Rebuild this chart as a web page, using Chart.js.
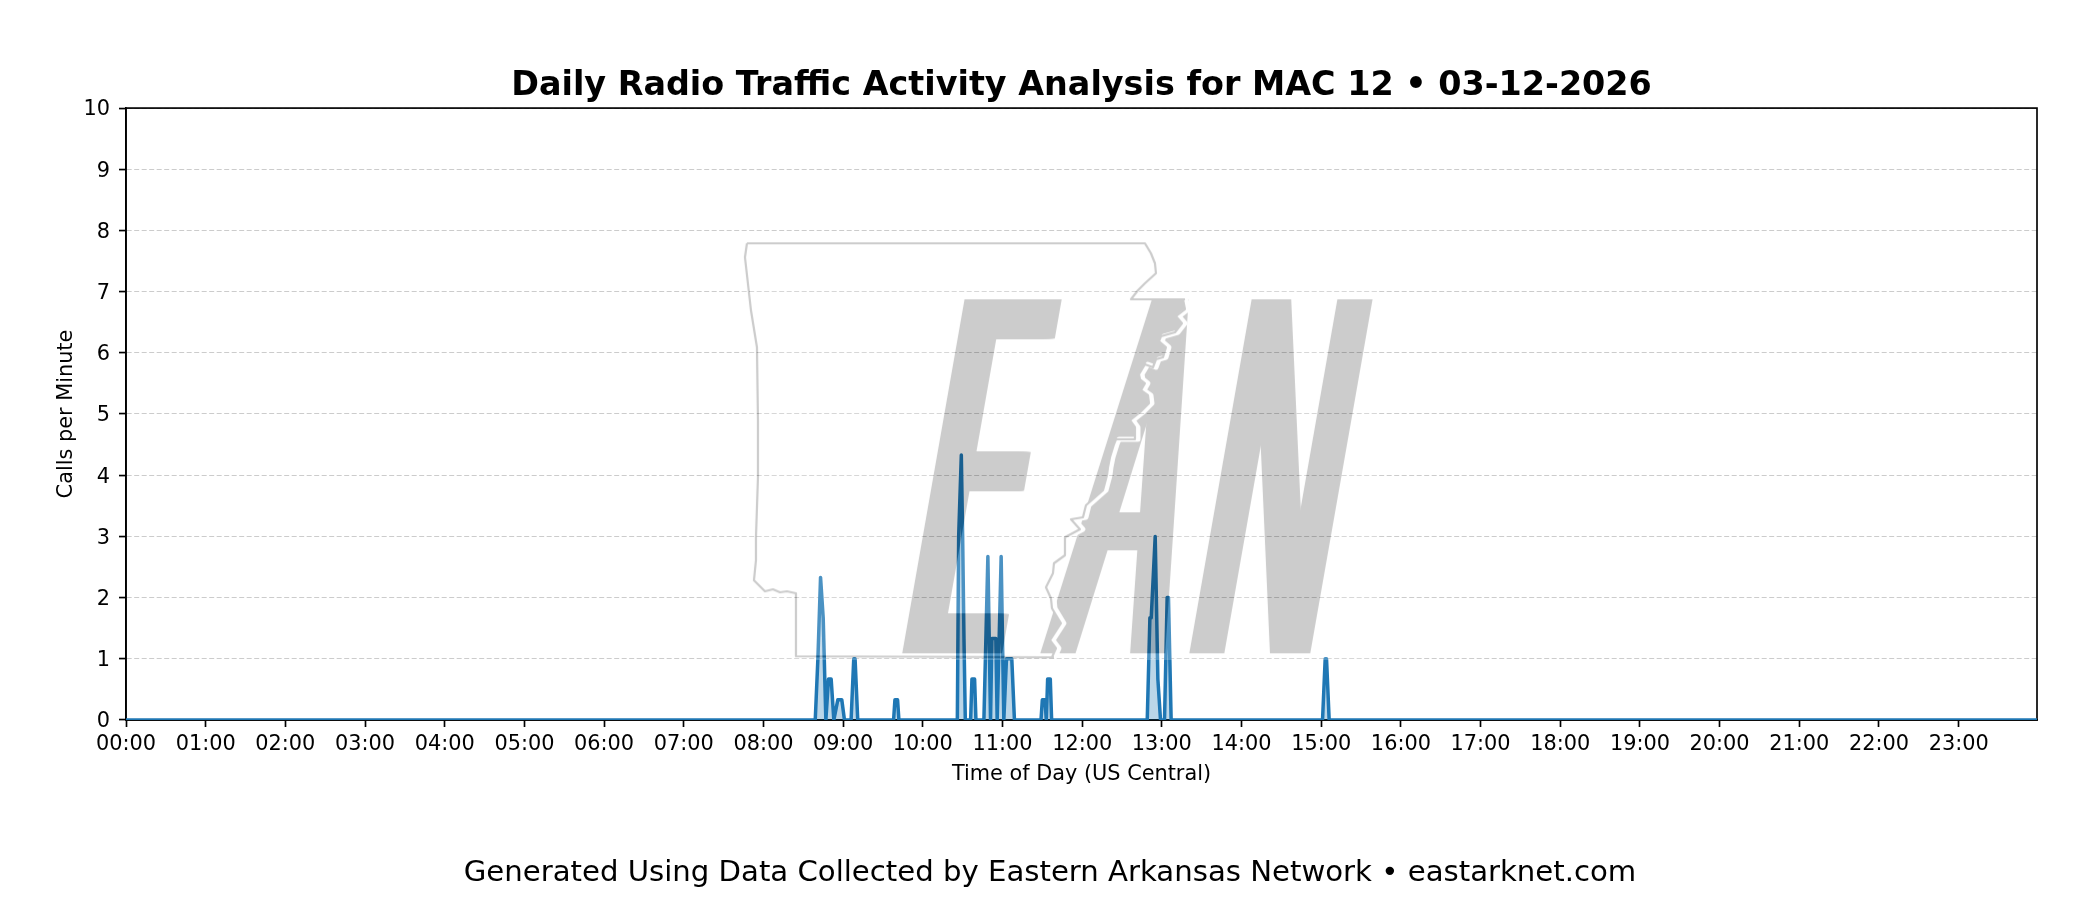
<!DOCTYPE html>
<html>
<head>
<meta charset="utf-8">
<title>Daily Radio Traffic Activity</title>
<script src="https://cdn.jsdelivr.net/npm/chart.js@4"></script>
<style>
  html, body { margin: 0; background: #fff; }
  canvas { display: block; }
</style>
</head>
<body>
<canvas id="trafficChart" width="2100" height="900"></canvas>
<script>
const hourLabels = ["00:00", "01:00", "02:00", "03:00", "04:00", "05:00", "06:00", "07:00",
  "08:00", "09:00", "10:00", "11:00", "12:00", "13:00", "14:00", "15:00",
  "16:00", "17:00", "18:00", "19:00", "20:00", "21:00", "22:00", "23:00"];

// minute of the day, quiet stretches only keep their end points
const minuteOfDay = [0, 519, 521, 523, 525, 527, 529, 531, 533, 536, 539, 541,
  546, 548, 549, 551, 578, 579, 581, 582,
  626, 627, 628, 629, 630, 631, 632, 636, 637, 639, 640,
  646, 649, 651, 652, 655, 656, 659, 661, 663, 667, 669,
  689, 690, 692, 693, 694, 696, 697,
  769, 771, 772, 775, 777, 779, 782, 784, 785, 787,
  901, 903, 904, 906, 1439];
const callsPerMinute = [0, 0, 1, 2.33, 1.67, 0, 0.67, 0.67, 0, 0.33, 0.33, 0,
  0, 1, 1, 0, 0, 0.33, 0.33, 0,
  0, 3, 3.67, 4.33, 3, 1.33, 0, 0, 0.67, 0.67, 0,
  0, 2.67, 0, 1.33, 1.33, 0, 2.67, 0, 1, 1, 0,
  0, 0.33, 0.33, 0, 0.67, 0.67, 0,
  0, 1.67, 1.67, 3, 0.67, 0, 0, 2, 2, 0,
  0, 1, 1, 0, 0];

// network logo sitting over the plot, in its own picture units
const logoLetters = ["E", "A", "N"];
const logoLeft = [162, 300, 449];
const logoRight = [263, 426, 572];
const logoSmear = [26, 20, 20];
const logoSlant = [0.176, 0.19, 0.176];
const stateNorth = [[7, 3], [405, 3], [411, 13], [415, 23], [416, 33], [405, 43], [398, 50], [391, 59], [445, 59]];
const stateRiver = [[445, 59], [447, 69], [438, 76], [444, 83], [437, 92], [423, 96], [421, 101], [428, 107],
  [425, 117], [418, 119], [415, 127], [407, 124], [401, 134], [402, 139], [407, 143], [403, 150], [410, 155],
  [411, 163], [402, 172], [392, 180], [397, 187], [397, 199], [378, 199], [376, 204], [372, 217], [370, 227],
  [369, 235], [365, 250], [348, 265], [345, 277], [333, 279], [342, 289], [327, 297], [327, 315], [316, 323],
  [315, 333], [308, 347], [313, 358], [314, 368], [323, 383], [312, 400], [318, 408], [314, 417]];
const stateSouth = [[314, 417], [56, 416], [56, 353], [47, 351], [40, 352], [33, 349], [25, 351], [18, 344],
  [14, 340], [16, 320], [16, 297], [18, 237], [18, 180], [17, 107], [11, 70], [5, 17], [7, 3]];

function tracePath(c, pts, dx) {
  c.beginPath();
  pts.forEach((p, i) => (i ? c.lineTo(p[0] + dx, p[1]) : c.moveTo(p[0] + dx, p[1])));
}

function paintLogo() {
  const off = document.createElement("canvas");
  off.width = 636;
  off.height = 420;
  const c = off.getContext("2d");
  c.fillStyle = "#fff";
  c.fillRect(0, 0, off.width, off.height);
  const baseline = 413, capTop = 58;
  c.fillStyle = "#000";
  c.font = "400 100px 'Liberation Sans'";
  logoLetters.forEach((ch, i) => {
    const m = c.measureText(ch);
    const ink = m.actualBoundingBoxRight + m.actualBoundingBoxLeft;
    const sy = (baseline - capTop) / m.actualBoundingBoxAscent;
    const sx = (logoRight[i] - logoLeft[i] - logoSmear[i]) / ink;
    for (let dx = 0; dx <= logoSmear[i]; dx++) {
      c.setTransform(sx, 0, -logoSlant[i] * sy, sy, logoLeft[i] + dx + m.actualBoundingBoxLeft * sx, baseline);
      c.fillText(ch, 0, 0);
    }
  });
  c.setTransform(1, 0, 0, 1, 0, 0);
  c.lineJoin = "round";
  c.strokeStyle = "#fff";
  c.lineWidth = 5;
  tracePath(c, stateRiver, 1);
  c.stroke();
  c.strokeStyle = "#000";
  c.lineWidth = 2.2;
  tracePath(c, stateNorth, 0);
  c.stroke();
  tracePath(c, stateRiver, -2);
  c.stroke();
  tracePath(c, stateSouth, 0);
  c.stroke();
  return off;
}

const logoPlugin = {
  id: "logo",
  afterDatasetsDraw(chart) {
    const { ctx, scales } = chart;
    ctx.save();
    ctx.globalAlpha = 0.2;
    ctx.drawImage(paintLogo(), scales.x.getPixelForValue(462.3), scales.y.getPixelForValue(7.84));
    ctx.restore();
  },
};

const framePlugin = {
  id: "frame",
  beforeDatasetsDraw(chart) {
    const { ctx, chartArea: a } = chart;
    ctx.save();
    ctx.strokeStyle = "#000";
    ctx.lineWidth = 1.67;
    ctx.strokeRect(a.left, a.top, a.right - a.left, a.bottom - a.top);
    ctx.restore();
  },
};

new Chart(document.getElementById("trafficChart"), {
  type: "line",
  data: {
    datasets: [{
      data: minuteOfDay.map((m, i) => ({ x: m, y: callsPerMinute[i] })),
      borderColor: "#1f77b4",
      borderWidth: 3.5,
      borderJoinStyle: "round",
      backgroundColor: "rgba(31,119,180,0.3)",
      fill: "origin",
      pointRadius: 0,
      tension: 0,
      clip: 0,
    }],
  },
  options: {
    responsive: false,
    animation: false,
    plugins: {
      legend: { display: false },
      tooltip: { enabled: false },
      title: {
        display: true,
        text: "Daily Radio Traffic Activity Analysis for MAC 12 \u2022 03-12-2026",
        color: "#000",
        fullSize: false,
        font: { family: "DejaVu Sans", size: 33.4, weight: "bold", lineHeight: 1.2 },
        padding: { top: 66.5, bottom: 1.5 },
      },
      subtitle: {
        display: true,
        position: "bottom",
        text: "Generated Using Data Collected by Eastern Arkansas Network \u2022 eastarknet.com",
        color: "#000",
        font: { family: "DejaVu Sans", size: 29.17, lineHeight: 1.2 },
        padding: { top: 22.5, bottom: 9.5 },
      },
    },
    scales: {
      x: {
        type: "linear",
        min: 0,
        max: 1439,
        afterFit: (s) => { s.height = 113; },
        afterBuildTicks: (s) => { s.ticks = hourLabels.map((_, i) => ({ value: i * 60 })); },
        grid: { drawOnChartArea: false, tickLength: 7, tickWidth: 1.67, tickColor: "#000" },
        border: { color: "#000", width: 1.67 },
        ticks: {
          autoSkip: false,
          maxRotation: 0,
          padding: 5,
          color: "#000",
          font: { family: "DejaVu Sans", size: 20.83 },
          callback: (v) => hourLabels[Math.round(v / 60)],
        },
        title: {
          display: true,
          text: "Time of Day (US Central)",
          color: "#000",
          font: { family: "DejaVu Sans", size: 20.83 },
          padding: { top: 0, bottom: 46 },
        },
      },
      y: {
        min: 0,
        max: 10,
        afterFit: (s) => { s.width = 126; },
        grid: {
          color: "rgba(176,176,176,0.65)",
          lineWidth: 1.1,
          tickLength: 7,
          tickWidth: 1.67,
          tickColor: "#000",
          tickBorderDash: [],
        },
        border: { color: "#000", width: 1.67, dash: [5, 2.5] },
        ticks: {
          stepSize: 1,
          padding: 9,
          labelOffset: 2,
          color: "#000",
          font: { family: "DejaVu Sans", size: 20.83 },
        },
        title: {
          display: true,
          text: "Calls per Minute",
          color: "#000",
          font: { family: "DejaVu Sans", size: 20.83 },
          padding: { top: 54, bottom: 54 },
        },
      },
      // empty axis, only holds the right margin so the footer stays centred on the page
      margin: {
        position: "right",
        afterFit: (s) => { s.width = 63; },
        grid: { display: false },
        border: { display: false },
        ticks: { display: false },
      },
    },
  },
  plugins: [logoPlugin, framePlugin],
});
</script>
</body>
</html>
